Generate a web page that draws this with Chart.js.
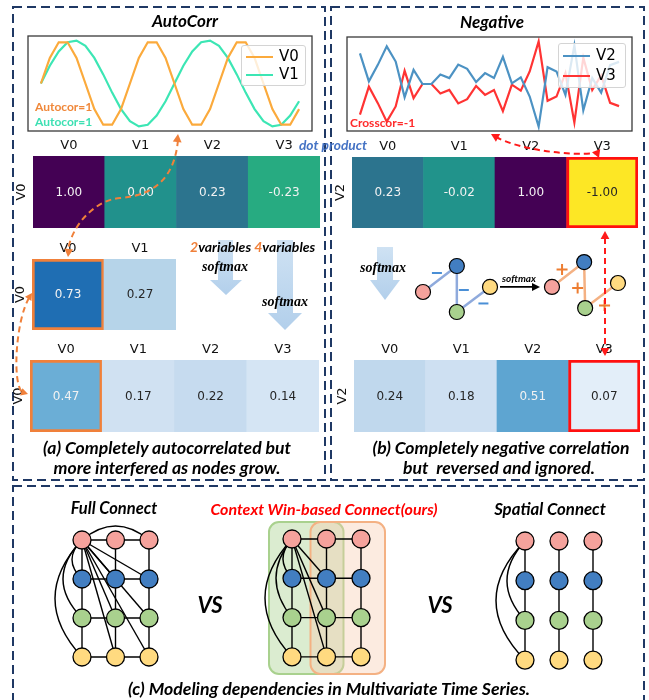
<!DOCTYPE html>
<html>
<head>
<meta charset="utf-8">
<script src="https://cdn.jsdelivr.net/npm/chart.js@4.4.1/dist/chart.umd.min.js"></script>
<style>
  html, body { margin: 0; padding: 0; background: #fff; }
  #page { position: relative; width: 649px; height: 700px; overflow: hidden; font-family: Lato, 'Open Sans', sans-serif; }
  #page canvas { position: absolute; }
  .t { position: absolute; white-space: pre; transform: translate(-50%, -50%); font-weight: bold; font-style: italic; color: #000; line-height: 1; }
  .l { position: absolute; white-space: pre; transform: translate(0, -50%); font-weight: bold; line-height: 1; }
  .serif { font-family: 'Liberation Serif', 'DejaVu Serif', serif; font-size: 14px; }
  .legend { position: absolute; background: rgba(255,255,255,0.8); border: 1px solid #d4d4d4; border-radius: 3px; font-family: 'DejaVu Sans', sans-serif; font-size: 15px; }
  .legend div { position: absolute; left: 4px; height: 18px; line-height: 18px; }
  .legend span.sw { display: inline-block; width: 27px; height: 0; border-top: 2.2px solid; vertical-align: middle; margin-right: 6px; }
</style>
</head>
<body>
<div id="page">
  <canvas id="overlayBack" width="649" height="700" style="left:0;top:0"></canvas>
  <canvas id="autoChart" width="286" height="97" style="left:27px;top:35px"></canvas>
  <canvas id="negChart" width="287" height="96" style="left:346px;top:36px"></canvas>
  <canvas id="heatDotV0"></canvas>
  <canvas id="heatDotV2"></canvas>
  <canvas id="heatSoft2"></canvas>
  <canvas id="heatSoft4"></canvas>
  <canvas id="heatSoftV2"></canvas>
  <canvas id="smallGraph" width="230" height="85" style="left:405px;top:245px"></canvas>
  <canvas id="fullGraph" width="150" height="170" style="left:30px;top:512px"></canvas>
  <canvas id="ctxGraph" width="160" height="170" style="left:240px;top:512px"></canvas>
  <canvas id="spaGraph" width="150" height="170" style="left:470px;top:512px"></canvas>
  <canvas id="overlay" width="649" height="700" style="left:0;top:0"></canvas>

  <div class="legend" style="left:241px;top:45px;width:63px;height:39px">
    <div style="top:1px"><span class="sw" style="border-color:#fbaa3c"></span>V0</div>
    <div style="top:19px"><span class="sw" style="border-color:#3ce6b4"></span>V1</div>
  </div>
  <div class="legend" style="left:558px;top:43px;width:66px;height:43px">
    <div style="top:2px"><span class="sw" style="border-color:#4c92c3"></span>V2</div>
    <div style="top:22px"><span class="sw" style="border-color:#ff3333"></span>V3</div>
  </div>

  <div class="t" style="left:185px;top:20px;font-size:17px">AutoCorr</div>
  <div class="t" style="left:492px;top:21px;font-size:17px">Negative</div>
  <div class="l" style="left:35px;top:107px;font-size:12px;color:#f0883a">Autocor=1</div>
  <div class="l" style="left:35px;top:122px;font-size:12px;color:#3de0b3">Autocor=1</div>
  <div class="l" style="left:350px;top:123px;font-size:12px;color:#ff2a2a">Crosscor=-1</div>
  <div class="t" style="left:333px;top:145px;font-size:13.8px;color:#4472c4">dot product</div>
  <div class="l" style="left:190px;top:247px;font-size:14px;font-style:italic"><span style="color:#f0803a">2</span>variables <span style="color:#f0803a">4</span>variables</div>
  <div class="t serif" style="left:225px;top:267px">softmax</div>
  <div class="t serif" style="left:285px;top:302px">softmax</div>
  <div class="t serif" style="left:383px;top:268px">softmax</div>

  <div class="t" style="left:167px;top:448px;font-size:17.6px">(a) Completely autocorrelated but</div>
  <div class="t" style="left:167px;top:468px;font-size:17.6px">more interfered as nodes grow.</div>
  <div class="t" style="left:501px;top:448px;font-size:17.6px">(b) Completely negative correlation</div>
  <div class="t" style="left:499px;top:468px;font-size:17.6px">but  reversed and ignored.</div>

  <div class="t" style="left:114px;top:508px;font-size:16.5px">Full Connect</div>
  <div class="t" style="left:324px;top:509px;font-size:16px;color:#ff0000">Context Win-based Connect(ours)</div>
  <div class="t" style="left:550px;top:509px;font-size:16.8px">Spatial Connect</div>
  <div class="t" style="left:210px;top:605px;font-size:22px">VS</div>
  <div class="t" style="left:440px;top:605px;font-size:22px">VS</div>
  <div class="t" style="left:329px;top:689px;font-size:17.7px">(c) Modeling dependencies in Multivariate Time Series.</div>
</div>

<script>
// ---------- data ----------
const steps = [0,1,2,3,4,5,6,7,8,9,10,11,12,13,14,15,16,17,18,19,20,21,22,23,24,25,26,27,28,29];
const autoV0 = [0,0.59,0.95,0.95,0.59,0,-0.59,-0.95,-0.95,-0.59,0,0.59,0.95,0.95,0.59,0,-0.59,-0.95,-0.95,-0.59,0,0.59,0.95,0.95,0.59,0,-0.59,-0.95,-0.95,-0.59];
const autoV1 = [0,0.41,0.74,0.95,0.99,0.87,0.59,0.21,-0.21,-0.59,-0.87,-0.99,-0.95,-0.74,-0.41,0,0.41,0.74,0.95,0.99,0.87,0.59,0.21,-0.21,-0.59,-0.87,-0.99,-0.95,-0.74,-0.41];
const negV2 = [0.93,0.08,0.58,1.14,0.68,-0.40,0.43,0,0,0.29,0.18,0.59,0.46,0.06,0.33,0.18,0.82,0.02,0.20,-0.38,-1.29,0.51,0.38,-0.33,1.17,-0.80,0.18,-0.26,0.57,0.67];
const negV3 = [-0.93,-0.08,-0.58,-1.14,-0.68,0.40,-0.43,0,0,-0.29,-0.18,-0.59,-0.46,-0.06,-0.33,-0.18,-0.82,-0.02,-0.20,0.38,1.29,-0.51,-0.38,0.33,-1.17,0.80,-0.18,0.26,-0.57,-0.67];

const cols4 = ['V0','V1','V2','V3'];
const cols2 = ['V0','V1'];
const dotV0 = [1.00, 0.00, 0.23, -0.23];
const dotV2 = [0.23, -0.02, 1.00, -1.00];
const soft2V0 = [0.73, 0.27];
const soft4V0 = [0.47, 0.17, 0.22, 0.14];
const soft4V2 = [0.24, 0.18, 0.51, 0.07];

// graph grids: 3 time steps x 4 variables, node id = row*3 + col
const gridCols = [0,1,2];
const gridRows = [0,1,2,3];
const rowColors = ['#f5a29c','#427ec1','#a9d18e','#ffda80'];
// extra edges [from, to, ctrlDx, ctrlDy]  (ctrl 0,0 = straight)
const fullExtra = [[0,4,0,0],[0,5,0,0],[0,7,0,0],[0,8,0,0],[0,10,0,0],[0,11,0,0],[0,3,-20,0],[0,6,-38,0],[0,9,-54,0],[0,2,0,-28]];
const ctxExtra = [[0,4,0,0],[0,7,0,0],[0,10,0,0],[0,3,-18,0],[0,6,-32,0],[0,9,-54,0]];
const spaExtra = [[0,6,-36,0],[0,9,-58,0]];
// context windows: [firstCol, lastCol]
const ctxWindows = [[0,1],[1,2]];

// small 4-node graphs (pink, blue, green, yellow)
const smallX1 = [0, 1.01, 1.01, 2.0];
const smallY1 = [1.13, 0, 2.0, 0.91];
const smallX2 = [3.85, 4.81, 4.84, 5.82];
const smallY2 = [0.91, -0.17, 1.83, 0.74];
const smallColors = ['#f5a29c','#427ec1','#a9d18e','#ffda80'];
const smallEdges = [[0,1],[1,2],[2,3]];

// ---------- helpers ----------
const hex = h => [1,3,5].map(i => parseInt(h.slice(i, i+2), 16));
function ramp(stops) {
  const c = stops.map(hex);
  return t => {
    t = Math.max(0, Math.min(1, t));
    const n = c.length - 1, f = t * n, i = Math.min(Math.floor(f), n - 1), u = f - i;
    const m = c[i].map((a, k) => Math.round(a + (c[i+1][k] - a) * u));
    return `rgb(${m[0]},${m[1]},${m[2]})`;
  };
}
const viridis = ramp(['#440154','#482475','#414487','#355f8d','#2a788e','#21918c','#22a884','#44bf70','#7ad151','#bddf26','#fde725']);
const blues = ramp(['#f7fbff','#deebf7','#c6dbef','#9ecae1','#6baed6','#4292c6','#2171b5','#08519c','#08306b']);
const corrColor = v => viridis((1 - v) / 2);
const probColor = v => blues(v + 0.03);

function textOn(rgb) {
  const ch = rgb.match(/\d+/g).map(Number).map(v => { v /= 255; return v <= 0.03928 ? v / 12.92 : Math.pow((v + 0.055) / 1.055, 2.4); });
  const L = 0.2126 * ch[0] + 0.7152 * ch[1] + 0.0722 * ch[2];
  return L < 0.408 ? '#f2f2f2' : '#262626';
}

const base = { responsive: false, animation: false, events: [],
  plugins: { legend: { display: false }, tooltip: { enabled: false } } };

const frame = {
  id: 'frame',
  afterDraw(chart) {
    const { ctx, chartArea: a } = chart;
    ctx.save(); ctx.strokeStyle = '#3a3a3a'; ctx.lineWidth = 1.3;
    ctx.strokeRect(a.left, a.top, a.right - a.left, a.bottom - a.top);
    ctx.restore();
  }
};

function lineChart(id, names, series, colors, yr) {
  new Chart(document.getElementById(id), {
    type: 'line',
    data: { datasets: series.map((s, k) => ({
      label: names[k], data: steps.map((x, i) => ({ x, y: s[i] })),
      borderColor: colors[k], borderWidth: 2.2, pointRadius: 0, tension: 0
    })) },
    options: { ...base, layout: { padding: 1, autoPadding: false },
      scales: { x: { type: 'linear', display: false, min: -1.45, max: 30.45 },
                y: { display: false, min: -yr, max: yr } } },
    plugins: [frame]
  });
}
lineChart('autoChart', ['V0','V1'], [autoV0, autoV1], ['#fbaa3c','#3ce6b4'], 1.095);
lineChart('negChart', ['V2','V3'], [negV2, negV3], ['#4c92c3','#ff3333'], 1.4245);

function heatmap(id, box, cols, vals, rowLabel, cmap, hi, hiColor) {
  const [x0, y0, x1, y1] = box;
  const pl = 26, pt = 22, pr = 4, pb = 4;
  const cv = document.getElementById(id);
  cv.width = x1 - x0 + pl + pr; cv.height = y1 - y0 + pt + pb;
  cv.style.left = (x0 - pl) + 'px'; cv.style.top = (y0 - pt) + 'px';
  const fills = vals.map(cmap);
  new Chart(cv, {
    type: 'bar',
    data: { labels: cols, datasets: [{
      data: vals.map(() => [0, 1]),
      backgroundColor: fills,
      borderColor: vals.map((v, i) => i === hi ? hiColor : 'rgba(0,0,0,0)'),
      borderWidth: vals.map((v, i) => i === hi ? 3 : 0),
      borderSkipped: false, barPercentage: 1, categoryPercentage: 1
    }] },
    options: { ...base, layout: { padding: { left: pl, top: pt, right: pr, bottom: pb }, autoPadding: false },
      scales: { x: { display: false }, y: { display: false, min: 0, max: 1 } } },
    plugins: [{
      id: 'cells',
      afterDatasetsDraw(chart) {
        const { ctx, chartArea: a } = chart;
        const bars = chart.getDatasetMeta(0).data;
        ctx.save();
        ctx.textAlign = 'center'; ctx.textBaseline = 'middle';
        bars.forEach((b, i) => {
          const p = b.getProps(['x', 'y', 'base'], true);
          ctx.font = '12px "DejaVu Sans"';
          ctx.fillStyle = textOn(fills[i]);
          ctx.fillText(vals[i].toFixed(2), p.x, (p.y + p.base) / 2 + 0.5);
          ctx.font = '13px "DejaVu Sans"';
          ctx.fillStyle = '#111';
          ctx.fillText(cols[i], p.x, a.top - 10);
        });
        ctx.translate(a.left - 11, (a.top + a.bottom) / 2);
        ctx.rotate(-Math.PI / 2);
        ctx.fillText(rowLabel, 0, 0);
        ctx.restore();
      }
    }]
  });
}
heatmap('heatDotV0', [33, 156, 320, 228], cols4, dotV0, 'V0', corrColor, -1);
heatmap('heatDotV2', [352, 157, 638, 228], cols4, dotV2, 'V2', corrColor, 3, '#ff1010');
heatmap('heatSoft2', [32, 259, 176, 330], cols2, soft2V0, 'V0', probColor, 0, '#f0803a');
heatmap('heatSoft4', [30, 360, 319, 432], cols4, soft4V0, 'V0', probColor, 0, '#f0803a');
heatmap('heatSoftV2', [354, 360, 640, 432], cols4, soft4V2, 'V2', probColor, 3, '#ff1010');

// ---------- graphs ----------
function axesFor(w, h, x0, dx, y0, dy) {
  return {
    x: { type: 'linear', display: false, min: -x0 / dx, max: (w - x0) / dx },
    y: { type: 'linear', display: false, reverse: true, min: -y0 / dy, max: (h - y0) / dy }
  };
}

const winStyle = [
  { fill: 'rgba(169,209,142,0.42)', line: '#a9d18e', padL: 23, padR: 17 },
  { fill: 'rgba(248,203,173,0.38)', line: '#f4b183', padL: 16, padR: 24 }
];

function gridGraph(id, origin, step, horiz, extra, windows) {
  const cv = document.getElementById(id);
  const nodes = [];
  gridRows.forEach(r => gridCols.forEach(c => nodes.push({ x: c, y: r })));
  const edges = [];
  gridRows.forEach(r => gridCols.forEach(c => {
    const id0 = r * 3 + c;
    if (horiz && c < 2) edges.push([id0, id0 + 1, 0, 0]);
    if (r < 3) edges.push([id0, id0 + 3, 0, 0]);
  }));
  edges.push(...extra);
  new Chart(cv, {
    type: 'scatter',
    data: { datasets: [{
      data: nodes, pointRadius: 9, pointHoverRadius: 9,
      pointBackgroundColor: nodes.map(n => rowColors[n.y]),
      pointBorderColor: '#000', pointBorderWidth: 1.3, clip: false
    }] },
    options: { ...base, layout: { autoPadding: false },
      scales: axesFor(cv.width, cv.height, origin[0], step[0], origin[1], step[1]) },
    plugins: [{
      id: 'edges',
      beforeDatasetsDraw(chart) {
        const { ctx, scales: { x, y } } = chart;
        const px = n => [x.getPixelForValue(nodes[n].x), y.getPixelForValue(nodes[n].y)];
        ctx.save();
        (windows || []).forEach(([c0, c1], k) => {
          const st = winStyle[k];
          const left = x.getPixelForValue(c0) - st.padL, right = x.getPixelForValue(c1) + st.padR;
          const top = y.getPixelForValue(gridRows[0]) - 17, bottom = y.getPixelForValue(gridRows[3]) + 17;
          ctx.beginPath();
          ctx.roundRect(left, top, right - left, bottom - top, 10);
          ctx.fillStyle = st.fill; ctx.strokeStyle = st.line; ctx.lineWidth = 2;
          ctx.fill(); ctx.stroke();
        });
        ctx.strokeStyle = '#000'; ctx.lineWidth = 1.4;
        edges.forEach(([a, b, cdx, cdy]) => {
          const [ax, ay] = px(a), [bx, by] = px(b);
          ctx.beginPath(); ctx.moveTo(ax, ay);
          if (cdx || cdy) ctx.quadraticCurveTo((ax + bx) / 2 + cdx, (ay + by) / 2 + cdy, bx, by);
          else ctx.lineTo(bx, by);
          ctx.stroke();
        });
        ctx.restore();
      }
    }]
  });
}
gridGraph('fullGraph', [52, 28], [33.5, 39], true, fullExtra);
gridGraph('ctxGraph', [52, 27], [34.5, 39.3], true, ctxExtra, ctxWindows);
gridGraph('spaGraph', [55, 29], [34, 39.7], false, spaExtra);

// small softmax graphs
(function () {
  const cv = document.getElementById('smallGraph');
  const g1 = smallX1.map((x, i) => ({ x, y: smallY1[i] }));
  const g2 = smallX2.map((x, i) => ({ x, y: smallY2[i] }));
  const signs1 = [[-3, -6], [7, 1], [10, 4]];
  const signs2 = [[-6, -5], [-7, 3], [3, 10]];
  const ds = pts => ({ data: pts, pointRadius: 7.5, pointHoverRadius: 7.5, pointBackgroundColor: smallColors,
    pointBorderColor: '#000', pointBorderWidth: 1.2, clip: false });
  new Chart(cv, {
    type: 'scatter',
    data: { datasets: [ds(g1), ds(g2)] },
    options: { ...base, layout: { autoPadding: false }, scales: axesFor(cv.width, cv.height, 18, 33.5, 21, 23) },
    plugins: [{
      id: 'smallEdges',
      beforeDatasetsDraw(chart) {
        const { ctx, scales: { x, y } } = chart;
        const P = p => [x.getPixelForValue(p.x), y.getPixelForValue(p.y)];
        ctx.save(); ctx.lineWidth = 2.5;
        [[g1, '#8faadc'], [g2, '#f4b183']].forEach(([g, col]) => {
          ctx.strokeStyle = col;
          smallEdges.forEach(([a, b]) => {
            const [ax, ay] = P(g[a]), [bx, by] = P(g[b]);
            ctx.beginPath(); ctx.moveTo(ax, ay); ctx.lineTo(bx, by); ctx.stroke();
          });
        });
        ctx.restore();
      },
      afterDatasetsDraw(chart) {
        const { ctx, scales: { x, y } } = chart;
        const P = p => [x.getPixelForValue(p.x), y.getPixelForValue(p.y)];
        ctx.save(); ctx.lineWidth = 2;
        smallEdges.forEach(([a, b], k) => {
          const [ax, ay] = P(g1[a]), [bx, by] = P(g1[b]);
          const mx = (ax + bx) / 2 + signs1[k][0], my = (ay + by) / 2 + signs1[k][1];
          ctx.strokeStyle = '#4a8fd6';
          ctx.beginPath(); ctx.moveTo(mx - 5, my); ctx.lineTo(mx + 5, my); ctx.stroke();
          const [cx, cy] = P(g2[a]), [dx, dy] = P(g2[b]);
          const nx = (cx + dx) / 2 + signs2[k][0], ny = (cy + dy) / 2 + signs2[k][1];
          ctx.strokeStyle = '#ed7d31';
          ctx.beginPath(); ctx.moveTo(nx - 5.5, ny); ctx.lineTo(nx + 5.5, ny);
          ctx.moveTo(nx, ny - 5.5); ctx.lineTo(nx, ny + 5.5); ctx.stroke();
        });
        // softmax arrow between the graphs
        const [sx, sy] = P(g1[3]), [ex] = P(g2[0]);
        const x0 = sx + 10, x1 = ex - 12;
        ctx.strokeStyle = '#000'; ctx.fillStyle = '#000'; ctx.lineWidth = 1.8;
        ctx.beginPath(); ctx.moveTo(x0, sy); ctx.lineTo(x1 - 6, sy); ctx.stroke();
        ctx.beginPath(); ctx.moveTo(x1, sy); ctx.lineTo(x1 - 8, sy - 4); ctx.lineTo(x1 - 8, sy + 4); ctx.closePath(); ctx.fill();
        ctx.font = 'italic bold 10px Lato'; ctx.textAlign = 'center'; ctx.textBaseline = 'middle';
        ctx.fillText('softmax', (x0 + x1) / 2 - 1, sy - 8);
        ctx.restore();
      }
    }]
  });
})();

// ---------- annotation layers (page pixel scale) ----------
function pageLayer(id, draw) {
  new Chart(document.getElementById(id), {
    type: 'scatter', data: { datasets: [] },
    options: { ...base, layout: { autoPadding: false },
      scales: { x: { type: 'linear', display: false, min: 0, max: 649 },
                y: { type: 'linear', display: false, min: 0, max: 700, reverse: true } } },
    plugins: [{ id: 'draw-' + id, afterDraw(chart) {
      const sx = chart.scales.x, sy = chart.scales.y;
      draw(chart.ctx, v => sx.getPixelForValue(v), v => sy.getPixelForValue(v));
    } }]
  });
}

function head(ctx, x, y, ang, size) {
  ctx.save(); ctx.translate(x, y); ctx.rotate(ang);
  ctx.setLineDash([]);
  ctx.beginPath(); ctx.moveTo(0, 0); ctx.lineTo(-size, -size * 0.55); ctx.lineTo(-size, size * 0.55); ctx.closePath(); ctx.fill();
  ctx.restore();
}

pageLayer('overlayBack', (ctx, X, Y) => {
  ctx.save();
  ctx.strokeStyle = '#1f3864'; ctx.lineWidth = 2; ctx.setLineDash([9, 5]);
  [[13, 7, 325, 480], [331, 7, 644, 480], [13, 486, 644, 712]].forEach(([a, b, c, d]) => {
    ctx.strokeRect(X(a), Y(b), X(c) - X(a), Y(d) - Y(b));
  });
  ctx.restore();
});

pageLayer('overlay', (ctx, X, Y) => {
  ctx.save();
  // block arrows
  const block = (s0, s1, h0, h1, top, hy, tip) => {
    const g = ctx.createLinearGradient(0, Y(top), 0, Y(tip));
    g.addColorStop(0, '#cfe2f3'); g.addColorStop(1, '#b2cfeb');
    ctx.fillStyle = g;
    ctx.beginPath();
    ctx.moveTo(X(s0), Y(top)); ctx.lineTo(X(s1), Y(top)); ctx.lineTo(X(s1), Y(hy)); ctx.lineTo(X(h1), Y(hy));
    ctx.lineTo(X((h0 + h1) / 2), Y(tip)); ctx.lineTo(X(h0), Y(hy)); ctx.lineTo(X(s0), Y(hy)); ctx.closePath(); ctx.fill();
  };
  block(218, 233, 210, 242, 240, 280, 295);
  block(277, 293, 268, 302, 240, 313, 330);
  block(377, 393, 370, 400, 247, 280, 300);

  ctx.lineWidth = 2; ctx.setLineDash([6, 4]);
  // orange dashed links
  ctx.strokeStyle = '#f0803a'; ctx.fillStyle = '#f0803a';
  ctx.beginPath();
  ctx.moveTo(X(178), Y(140));
  ctx.bezierCurveTo(X(175), Y(172), X(160), Y(195), X(120), Y(198));
  ctx.bezierCurveTo(X(95), Y(200), X(72), Y(225), X(68), Y(250));
  ctx.stroke();
  head(ctx, X(178), Y(134), -Math.PI / 2 + 0.1, 8);
  head(ctx, X(68), Y(257), Math.PI / 2 + 0.1, 8);
  ctx.beginPath();
  ctx.moveTo(X(29), Y(298));
  ctx.bezierCurveTo(X(16), Y(320), X(12), Y(382), X(22), Y(392));
  ctx.stroke();
  head(ctx, X(32), Y(293), -1.0, 7);
  head(ctx, X(28), Y(394), 0.3, 7);

  // red dashed links
  ctx.strokeStyle = '#ff1a1a'; ctx.fillStyle = '#ff1a1a';
  ctx.beginPath();
  ctx.moveTo(X(496), Y(137));
  ctx.bezierCurveTo(X(520), Y(150), X(570), Y(156), X(596), Y(153));
  ctx.stroke();
  head(ctx, X(491), Y(134), Math.PI + 0.5, 8);
  head(ctx, X(599), Y(158), 1.2, 8);
  ctx.beginPath(); ctx.moveTo(X(605), Y(238)); ctx.lineTo(X(605), Y(349)); ctx.stroke();
  head(ctx, X(605), Y(231), -Math.PI / 2, 8);
  head(ctx, X(605), Y(356), Math.PI / 2, 8);
  ctx.restore();
});
</script>
</body>
</html>
